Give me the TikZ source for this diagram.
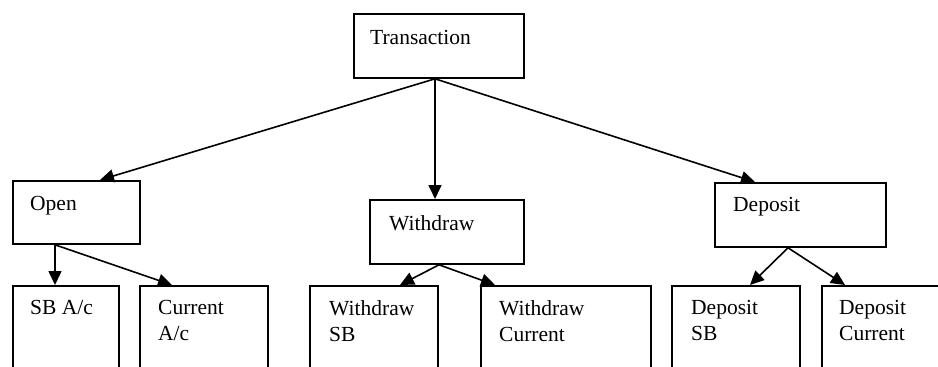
\documentclass[tikz,border=0pt]{standalone}
\usepackage{fontspec}
\setmainfont{Liberation Serif}
\usetikzlibrary{arrows.meta, calc}
\tikzset{
  box/.style={draw, line width=1.8pt, rectangle, anchor=north west, inner sep=0pt},
  boxtext/.style={anchor=north west, inner sep=0pt, align=left,
    font=\fontsize{21.5pt}{26pt}\selectfont},
  link/.style={line width=1.6pt, -{Triangle[length=14pt, width=13pt]}}
}
\begin{document}
\begin{tikzpicture}[x=1pt, y=-1pt]
  \useasboundingbox (0,0) rectangle (938,367);
  \clip (0,0) rectangle (938,367);
  % top level
  \node[box, minimum width=170pt, minimum height=64pt] (trans) at (353,13) {};
  \node[boxtext] (trans-txt) at ($(trans.north west)+(17,17)$) {Transaction};
  % second level
  \node[box, minimum width=127pt, minimum height=63pt] (open) at (12,180) {};
  \node[boxtext] (open-txt) at ($(open.north west)+(18,16)$) {Open};
  \node[box, minimum width=154pt, minimum height=64pt] (wd) at (369,199) {};
  \node[boxtext] (wd-txt) at ($(wd.north west)+(20,16)$) {Withdraw};
  \node[box, minimum width=171pt, minimum height=64pt] (dep) at (714,182) {};
  \node[boxtext] (dep-txt) at ($(dep.north west)+(19,15)$) {Deposit};
  % bottom level (boxes run past the lower edge)
  \node[box, minimum width=106pt, minimum height=100pt] (sb) at (12,285) {};
  \node[boxtext] (sb-txt) at ($(sb.north west)+(18,15)$) {SB A/c};
  \node[box, minimum width=128pt, minimum height=100pt] (cur) at (139,285) {};
  \node[boxtext] (cur-txt) at ($(cur.north west)+(19,15)$) {Current\\A/c};
  \node[box, minimum width=128pt, minimum height=100pt] (wsb) at (309,285) {};
  \node[boxtext] (wsb-txt) at ($(wsb.north west)+(20,15)$) {Withdraw\\SB};
  \node[box, minimum width=170pt, minimum height=100pt] (wcur) at (480,285) {};
  \node[boxtext] (wcur-txt) at ($(wcur.north west)+(19,15)$) {Withdraw\\Current};
  \node[box, minimum width=128pt, minimum height=100pt] (dsb) at (671,285) {};
  \node[boxtext] (dsb-txt) at ($(dsb.north west)+(20,15)$) {Deposit\\SB};
  \node[box, minimum width=140pt, minimum height=100pt] (dcur) at (821,285) {};
  \node[boxtext] (dcur-txt) at ($(dcur.north west)+(18,15)$) {Deposit\\Current};
  % connectors
  \coordinate (trans-out) at ($(trans.south west)+(82,0)$);
  \coordinate (open-out) at ($(open.south west)+(43,0)$);
  \coordinate (wd-out) at ($(wd.south west)+(70,0)$);
  \coordinate (dep-out) at ($(dep.south west)+(74,0)$);
  \draw[link] (trans-out) -- ($(open.north west)+(88,0)$);
  \draw[link] (trans-out) -- ($(wd.north west)+(66,0)$);
  \draw[link] (trans-out) -- ($(dep.north west)+(41,0)$);
  \draw[link] (open-out) -- ($(sb.north west)+(43,0)$);
  \draw[link] (open-out) -- ($(cur.north west)+(33,0)$);
  \draw[link] (wd-out) -- ($(wsb.north west)+(91,0)$);
  \draw[link] (wd-out) -- ($(wcur.north west)+(15,0)$);
  \draw[link] (dep-out) -- ($(dsb.north west)+(79,0)$);
  \draw[link] (dep-out) -- ($(dcur.north west)+(24,0)$);
\end{tikzpicture}
\end{document}
